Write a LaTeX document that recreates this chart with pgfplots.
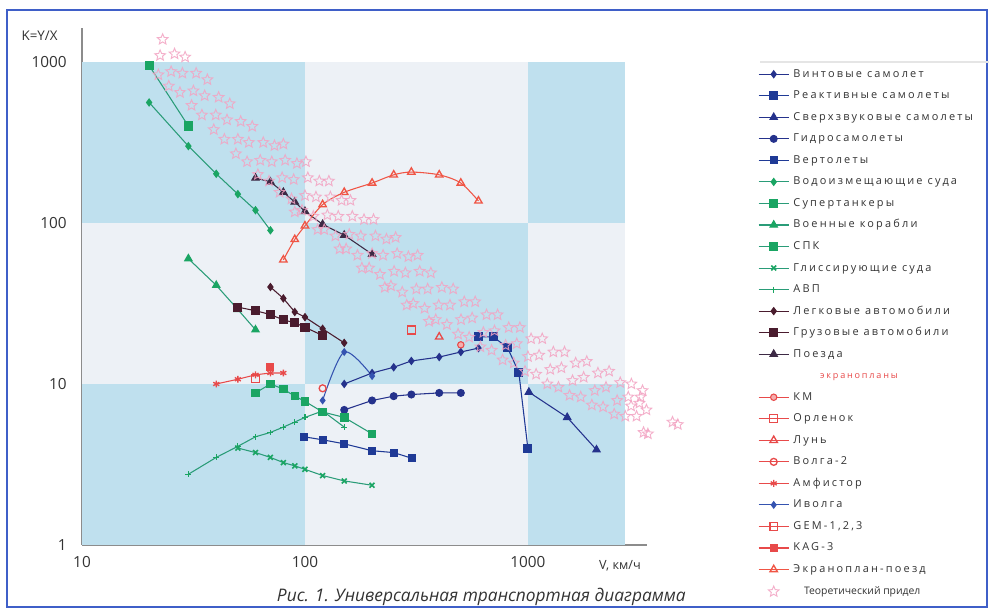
\documentclass[border=0pt]{standalone}
\usepackage{pgfplots}
\pgfplotsset{compat=1.18}
\usepackage{fontspec}
\setmainfont{Open Sans}
\newfontfamily\legfont[LetterSpace=20]{Open Sans}
\usetikzlibrary{plotmarks}
\definecolor{cdark}{HTML}{BFE0EE}
\definecolor{clight}{HTML}{EDF1F6}
\definecolor{navy}{HTML}{25328C}
\definecolor{navyB}{HTML}{1F3A96}
\definecolor{ivol}{HTML}{3553B0}
\definecolor{grn}{HTML}{1AA563}
\definecolor{grnL}{HTML}{2A9C78}
\definecolor{maroonc}{HTML}{4A1C2E}
\definecolor{trainc}{HTML}{3D2A45}
\definecolor{redc}{HTML}{E84A4A}
\definecolor{redt}{HTML}{F05545}
\definecolor{pinkc}{HTML}{F3A3C2}
\definecolor{framec}{HTML}{3F5FC8}
\definecolor{axisc}{HTML}{8C8C8C}
\definecolor{txtc}{HTML}{333333}

\pgfdeclareplotmark{ostar}{%
  \pgfpathmoveto{\pgfpointpolar{90}{\pgfplotmarksize}}%
  \pgfpathlineto{\pgfpointpolar{54}{0.45\pgfplotmarksize}}%
  \pgfpathlineto{\pgfpointpolar{18}{\pgfplotmarksize}}%
  \pgfpathlineto{\pgfpointpolar{342}{0.45\pgfplotmarksize}}%
  \pgfpathlineto{\pgfpointpolar{306}{\pgfplotmarksize}}%
  \pgfpathlineto{\pgfpointpolar{270}{0.45\pgfplotmarksize}}%
  \pgfpathlineto{\pgfpointpolar{234}{\pgfplotmarksize}}%
  \pgfpathlineto{\pgfpointpolar{198}{0.45\pgfplotmarksize}}%
  \pgfpathlineto{\pgfpointpolar{162}{\pgfplotmarksize}}%
  \pgfpathlineto{\pgfpointpolar{126}{0.45\pgfplotmarksize}}%
  \pgfpathclose
  \pgfusepathqstroke
}

\pgfplotstableread{
x y
22 832
22.4 1096
23 1380
24.5 708
25.1 871
26 1122
27.5 646
28.2 851
29 1072
31 537
31.6 661
32.5 851
34.5 468
35.5 617
36.5 776
39 380
39.8 468
41 603
43.5 331
44.7 437
46 550
49 269
50 331
51.5 427
55 240
56 316
58 398
61.5 200
63 245
65 316
69 182
71 240
73 302
77 155
79 191
81.5 245
80 309
87 141
89 186
92 234
90 117
97 120
100 148
103 191
101 240
109 110
112 145
116 182
114 91
122 91
126 112
130 145
128 182
137 83
141 110
146 138
143 69
153 69
158 85
163 110
160 138
172 63
178 83
184 105
180 52.5
194 52.5
200 64.6
207 83
203 105
217 47.9
224 63
232 79.4
228 39.8
243 40.7
251 50.1
259 64.6
255 81.3
273 37.2
282 49
291 61.7
286 30.9
306 31.6
316 38.9
327 50.1
320 63
344 29.5
355 38.9
367 49
360 24.5
386 25.1
398 30.9
411 39.8
433 23.4
447 30.9
462 38.9
486 20.4
501 25.1
518 32.4
545 19.5
562 25.7
580 32.4
612 17
631 20.9
652 26.9
687 16.2
708 21.4
731 26.9
770 14.1
794 17.4
820 22.4
864 13.5
891 17.8
920 22.4
970 12
1000 14.8
1033 19.1
1088 11.5
1122 15.1
1159 19.1
1221 10
1259 12.3
1300 15.8
1370 9.55
1413 12.6
1459 15.8
1537 8.5
1585 10.5
1637 13.5
1725 8.3
1778 11
1836 13.8
1935 7.4
1995 9.1
2060 11.7
2172 7.2
2239 9.55
2312 12
2437 6.5
2512 7.9
2594 10.2
2733 6.3
2818 8.3
2910 10
3070 6.3
3162 7.6
3265 9.1
3200 8.3
3400 6.9
2900 7.3
3300 5.0
3450 4.9
4450 5.8
4700 5.6
}\starsdata

\begin{document}
\begin{tikzpicture}
\useasboundingbox (0,0) rectangle (742.5pt,459.75pt);
\fill[white] (0,0) rectangle (742.5pt,459.75pt);
\draw[framec, line width=1.4pt] (5.25pt,4.5pt) rectangle (740.25pt,452.25pt);
\draw[gray!20, line width=0.8pt] (570pt,413.25pt) -- (742pt,413.25pt);
\begin{axis}[
  at={(61.5pt,51pt)}, anchor=south west,
  scale only axis, width=423.75pt, height=387.75pt,
  xmode=log, ymode=log,
  xmin=10, xmax=3420, ymin=1, ymax=1625,
  clip=false,
  axis x line=bottom, axis y line=left,
  axis line style={-, axisc, line width=1.3pt},
  xtick={10,100,1000}, ytick={1,10,100,1000},
  xticklabels={10,100,1000}, yticklabels={1,10,100,1000},
  major tick length=0pt, minor tick num=0,
  xminorticks=false, yminorticks=false,
  /pgf/number format/assume math mode=true,
  tick label style={font=\fontsize{11.5}{13}\selectfont, text=txtc},
  xticklabel style={yshift=-5pt},
  yticklabel style={xshift=-8pt},
  legend cell align=left,
  legend style={at={(axis description cs:1.196,0.9207)}, anchor=north west,
    draw=none, fill=none, font=\legfont\fontsize{8.2}{9}\selectfont, text=txtc,
    row sep=8.65pt, inner sep=0pt,
    nodes={inner sep=0pt, text height=6pt, text depth=1.5pt},
    /tikz/every odd column/.append style={column sep=3pt}},
  legend image code/.code={\draw[mark repeat=2,mark phase=2] plot coordinates {(0cm,0cm) (0.4cm,0cm) (0.8cm,0cm)};},
]
% background checkerboard
\fill[cdark]  (axis cs:10,100) rectangle (axis cs:100,1000);
\fill[clight] (axis cs:100,100) rectangle (axis cs:1000,1000);
\fill[cdark]  (axis cs:1000,100) rectangle (axis cs:2720,1000);
\fill[clight] (axis cs:10,10) rectangle (axis cs:100,100);
\fill[cdark]  (axis cs:100,10) rectangle (axis cs:1000,100);
\fill[clight] (axis cs:1000,10) rectangle (axis cs:2720,100);
\fill[cdark]  (axis cs:10,1) rectangle (axis cs:100,10);
\fill[clight] (axis cs:100,1) rectangle (axis cs:1000,10);
\fill[cdark]  (axis cs:1000,1) rectangle (axis cs:2720,10);

% planes
\addplot[navy, line width=0.8pt, mark=diamond*, mark size=2.6pt, mark options={solid,fill=navy}]
  coordinates {(150,10) (200,11.7) (250,12.7) (300,13.9) (400,14.7) (500,15.8) (600,16.7)};
\addlegendentry{Винтовые самолет}
\addplot[navyB, line width=0.8pt, mark=square*, mark size=3pt, mark options={solid,fill=navyB}]
  coordinates {(600,19.6) (700,19.6) (810,16.8) (910,11.8) (1000,3.95)};
\addlegendentry{Реактивные самолеты}
\addplot[navy, line width=0.8pt, mark=triangle*, mark size=3.2pt, mark options={solid,fill=navy}]
  coordinates {(1010,8.9) (1500,6.2) (2030,3.9)};
\addlegendentry{Сверхзвуковые самолеты}
\addplot[navy, line width=0.8pt, mark=*, mark size=2.6pt, mark options={solid,fill=navy}]
  coordinates {(150,6.9) (200,7.9) (250,8.4) (300,8.6) (400,8.8) (500,8.8)};
\addlegendentry{Гидросамолеты}
\addplot[navyB, line width=0.8pt, mark=square*, mark size=2.6pt, mark options={solid,fill=navyB}]
  coordinates {(99,4.7) (120,4.5) (150,4.25) (200,3.85) (250,3.75) (303,3.45)};
\addlegendentry{Вертолеты}
% ships
\addplot[grnL, line width=0.8pt, mark=diamond*, mark size=2.6pt, mark options={solid,fill=grn,draw=grn}]
  coordinates {(20,560) (30,300) (40,202) (50,151) (60,120) (70,90)};
\addlegendentry{Водоизмещающие суда}
\addplot[grnL, line width=0.8pt, mark=square*, mark size=3pt, mark options={solid,fill=grn,draw=grn}]
  coordinates {(20,950) (30,400)};
\addlegendentry{Супертанкеры}
\addplot[grnL, line width=0.8pt, mark=triangle*, mark size=3.2pt, mark options={solid,fill=grn,draw=grn}]
  coordinates {(30,60) (40,41) (50,29) (60,21.7)};
\addlegendentry{Военные корабли}
\addplot[grnL, line width=0.8pt, mark=square*, mark size=2.8pt, mark options={solid,fill=grn,draw=grn}]
  coordinates {(60,8.8) (70,10) (80,9.3) (90,8.4) (100,7.8) (120,6.7) (150,6.2) (200,4.9)};
\addlegendentry{СПК}
\addplot[grnL, line width=0.8pt, mark=x, mark size=2.6pt, mark options={solid,draw=grn,line width=1.2pt}]
  coordinates {(50,4) (60,3.75) (70,3.5) (80,3.25) (90,3.1) (100,2.95) (120,2.7) (150,2.5) (200,2.35)};
\addlegendentry{Глиссирующие суда}
\addplot[grnL, line width=0.8pt, mark=+, mark size=2.2pt, mark options={solid,draw=grn}]
  coordinates {(30,2.75) (40,3.5) (50,4.1) (60,4.7) (70,5) (80,5.4) (90,5.8) (100,6.2) (120,6.8) (150,5.4)};
\addlegendentry{АВП}
% land
\addplot[maroonc, line width=0.8pt, mark=diamond*, mark size=2.6pt, mark options={solid,fill=maroonc}]
  coordinates {(70,40) (80,34) (90,28) (100,26) (120,22) (150,18)};
\addlegendentry{Легковые автомобили}
\addplot[maroonc, line width=0.8pt, mark=square*, mark size=3pt, mark options={solid,fill=maroonc}]
  coordinates {(50,30) (60,28.5) (70,27) (80,25) (90,24) (100,22.5) (120,20)};
\addlegendentry{Грузовые автомобили}
\addplot[trainc, line width=0.8pt, mark=triangle*, mark size=3.2pt, mark options={solid,fill=trainc}]
  coordinates {(60,190) (70,180) (80,155) (90,135) (100,118) (120,98) (150,84) (200,64)};
\addlegendentry{Поезда}
\addlegendimage{empty legend}
\addlegendentry{\hspace*{20pt}{\color{redc}\fontsize{6.8}{8}\selectfont экранопланы}}
% ekranoplans
\addplot[redc, line width=0.8pt, mark=*, mark size=2.4pt, mark options={solid,fill=redc!45,draw=redc}]
  coordinates {(500,17.5)};
\addlegendentry{КМ}
\addplot[redc, line width=0.8pt, mark=square, mark size=3pt, mark options={solid,fill=white,line width=1pt}]
  coordinates {(300,21.6)};
\addlegendentry{Орленок}
\addplot[redc, line width=0.8pt, mark=triangle, mark size=3.2pt, mark options={solid,fill=white,line width=1pt}]
  coordinates {(400,19.6)};
\addlegendentry{Лунь}
\addplot[redc, line width=0.8pt, mark=o, mark size=2.6pt, mark options={solid,line width=1pt}]
  coordinates {(120,9.4)};
\addlegendentry{Волга-2}
\addplot[redc, line width=0.8pt, mark=asterisk, mark size=2.6pt, mark options={solid,line width=1pt}]
  coordinates {(40,10) (50,10.7) (60,11.4) (70,11.7) (80,11.7)};
\addlegendentry{Амфистор}
\addplot[ivol, line width=0.8pt, smooth, mark=diamond*, mark size=2.4pt, mark options={solid,fill=ivol}]
  coordinates {(120,7.9) (150,15.8) (200,11.2)};
\addlegendentry{Иволга}
\addplot[redc, line width=0.8pt, mark=square, mark size=2.8pt, mark options={solid,fill=white,line width=1pt}]
  coordinates {(60,10.8)};
\addlegendentry{GEM-1,2,3}
\addplot[redc, line width=0.8pt, mark=square*, mark size=2.6pt, mark options={solid,fill=redc}]
  coordinates {(70,12.8)};
\addlegendentry{KAG-3}
\addplot[redt, line width=0.8pt, smooth, mark=triangle, mark size=3.2pt, mark options={solid,fill=white,line width=1pt}]
  coordinates {(80,59) (90,79) (100,96) (120,130) (150,155) (200,177) (250,199) (300,207) (400,199) (500,177) (600,137)};
\addlegendentry{Экраноплан-поезд}
\addplot[only marks, mark=ostar, mark size=4.2pt, mark options={draw=pinkc, line width=0.7pt, opacity=0.85}]
  table {\starsdata};
\addlegendentry{\hspace*{8pt}{\fontspec{Open Sans}\fontsize{7.8}{9}\selectfont Теоретический придел}}
\end{axis}
\node[anchor=south west, font=\fontsize{10}{12}\selectfont, text=txtc, inner sep=0pt] at (16pt,429pt) {K=Y/X};
\node[anchor=center, font=\fontsize{9.5}{11}\selectfont, text=txtc] at (465pt,35.25pt) {V, км/ч};
\node[anchor=center, font=\itshape\fontsize{13}{15}\selectfont, text=txtc] at (361pt,12pt) {Рис. 1. Универсальная транспортная диаграмма};
\end{tikzpicture}
\end{document}
